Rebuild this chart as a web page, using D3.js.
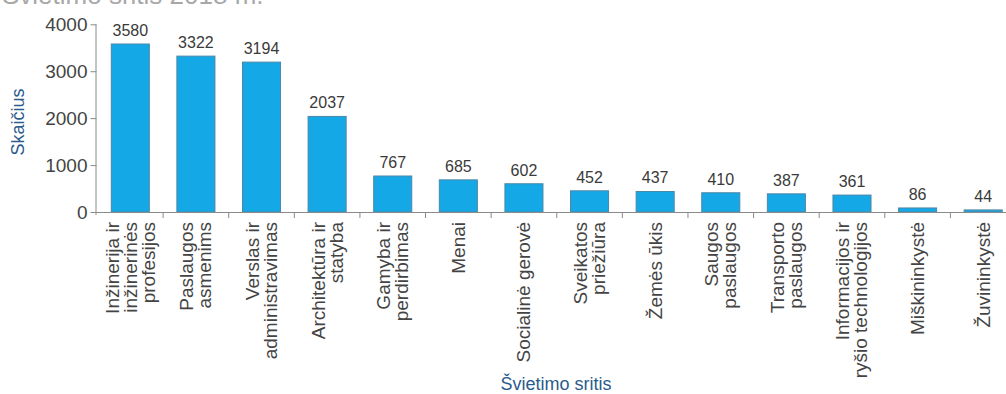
<!DOCTYPE html>
<html>
<head>
<meta charset="utf-8">
<script src="https://cdn.jsdelivr.net/npm/d3@7"></script>
<style>
  html, body { margin: 0; padding: 0; background: #fff; overflow: hidden; }
  svg { display: block; font-family: "Liberation Sans", Arial, sans-serif; }
</style>
</head>
<body>
<svg id="chart" width="1006" height="394"></svg>
<script>
const title = "Švietimo sritis 2018 m.";
const categories = [
  ["Inžinerija ir", "inžinerinės", "profesijos"],
  ["Paslaugos", "asmenims"],
  ["Verslas ir", "administravimas"],
  ["Architektūra ir", "statyba"],
  ["Gamyba ir", "perdirbimas"],
  ["Menai"],
  ["Socialinė gerovė"],
  ["Sveikatos", "priežiūra"],
  ["Žemės ūkis"],
  ["Saugos", "paslaugos"],
  ["Transporto", "paslaugos"],
  ["Informacijos ir", "ryšio technologijos"],
  ["Miškininkystė"],
  ["Žuvininkystė"]
];
const values = [3580, 3322, 3194, 2037, 767, 685, 602, 452, 437, 410, 387, 361, 86, 44];
const yTicks = [0, 1000, 2000, 3000, 4000];
const yTitle = "Skaičius";
const xTitle = "Švietimo sritis";

(function () {
const svg = d3.select("#chart");
const pLeft = 97.5, pRight = 1016, pTop = 24.3, pBottom = 212;

const x = d3.scaleBand().domain(d3.range(categories.length)).range([pLeft, pRight]).paddingInner(0.42).paddingOuter(0.21);
const y = d3.scaleLinear().domain([0, 4000]).range([pBottom, pTop]);

// title (cropped at top, as in the reference)
svg.append("text").attr("x", 2).attr("y", 4).attr("font-size", 26).attr("fill", "#a8a8a8").text(title);

// bars
svg.selectAll("rect.bar").data(values).enter().append("rect")
  .attr("class", "bar")
  .attr("x", (d, i) => x(i))
  .attr("width", x.bandwidth())
  .attr("y", d => y(d))
  .attr("height", d => pBottom - y(d))
  .attr("fill", "#15a8e6")
  .attr("stroke", "#4d87a6")
  .attr("stroke-width", 1);

// value labels
svg.selectAll("text.val").data(values).enter().append("text")
  .attr("class", "val")
  .attr("x", (d, i) => x(i) + x.bandwidth() / 2)
  .attr("y", d => y(d) - 8)
  .attr("text-anchor", "middle")
  .attr("font-size", 16)
  .attr("fill", "#3a3a3a")
  .text(d => d);

// y axis
const yAxis = svg.append("g").attr("transform", `translate(${pLeft - 1},0)`)
  .call(d3.axisLeft(y).tickValues(yTicks).tickSize(6).tickPadding(3).tickFormat(d3.format("d")));
yAxis.select(".domain").attr("stroke", "#8a8a8a").attr("d", `M-0.5,${pTop}V${pBottom + 3}`);
yAxis.selectAll(".tick line").attr("stroke", "#8a8a8a");
yAxis.selectAll(".tick text").attr("font-size", 19).attr("fill", "#444").attr("font-family", "Liberation Sans, Arial, sans-serif");

// x axis
const step = x.step();
const boundaries = d3.range(1, categories.length).map(i => x(i) - x.paddingInner() * step / 2);
const xg = svg.append("g");
xg.append("line").attr("x1", pLeft - 1.5).attr("x2", 1006).attr("y1", pBottom + 0.5).attr("y2", pBottom + 0.5).attr("stroke", "#8a8a8a");
xg.selectAll("line.tk").data(boundaries).enter().append("line")
  .attr("class", "tk")
  .attr("x1", d => d).attr("x2", d => d)
  .attr("y1", pBottom).attr("y2", pBottom + 6)
  .attr("stroke", "#8a8a8a");

// category labels rotated
const lineH = 18;
const labels = svg.selectAll("g.cat").data(categories).enter().append("g")
  .attr("class", "cat")
  .attr("transform", (d, i) => `translate(${x(i) + x.bandwidth() / 2},222) rotate(-90)`);
labels.each(function(lines) {
  const g = d3.select(this);
  const n = lines.length;
  lines.forEach((ln, k) => {
    g.append("text")
      .attr("x", 0)
      .attr("y", (k - (n - 1) / 2) * lineH + 6.5)
      .attr("text-anchor", "end")
      .attr("font-size", 19)
      .attr("fill", "#444")
      .text(ln);
  });
});

// axis titles
svg.append("text")
  .attr("transform", "translate(24,122) rotate(-90)")
  .attr("text-anchor", "middle")
  .attr("font-size", 18)
  .attr("fill", "#2b5b8c")
  .text(yTitle);
svg.append("text")
  .attr("x", 556).attr("y", 390)
  .attr("text-anchor", "middle")
  .attr("font-size", 18)
  .attr("fill", "#2b5b8c")
  .text(xTitle);
})();
</script>
</body>
</html>
